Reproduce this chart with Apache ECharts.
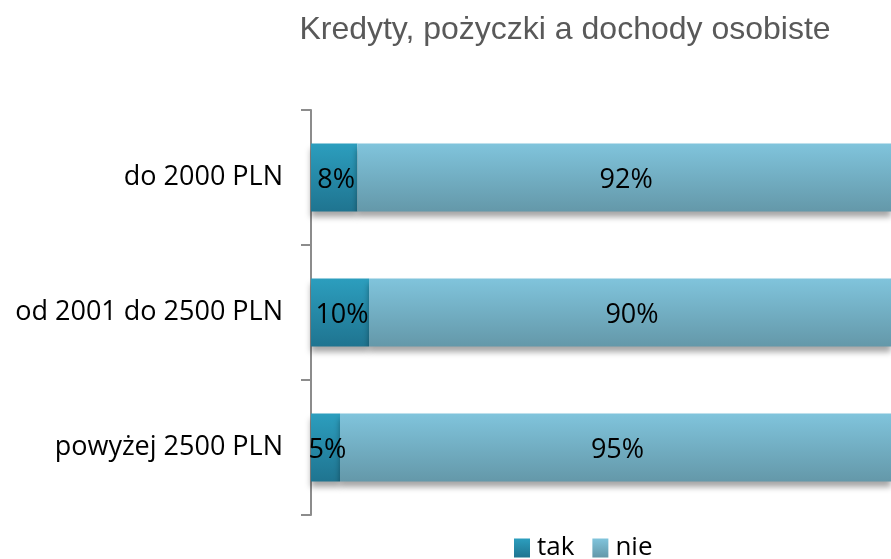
<!DOCTYPE html>
<html>
<head>
<meta charset="utf-8">
<script src="https://cdn.jsdelivr.net/npm/echarts@6/dist/echarts.min.js"></script>
<style>
    html, body { margin: 0; padding: 0; background: #fff; }
    #chart { width: 891px; height: 559px; }
</style>
</head>
<body>
<div id="chart"></div>
<script>
const categories = ['do 2000 PLN', 'od 2001 do 2500 PLN', 'powyżej 2500 PLN'];
const takValues = [8, 10, 5];
const nieValues = [92, 90, 95];

const chart = echarts.init(document.getElementById('chart'));

function grad(top, bottom) {
    return new echarts.graphic.LinearGradient(0, 0, 0, 1, [
        { offset: 0, color: top },
        { offset: 1, color: bottom }
    ]);
}

const labelFont = '"Open Sans", "Noto Sans", sans-serif';

const barLabel = {
    show: true,
    position: 'inside',
    formatter: '{c}%',
    offset: [2, 3],
    fontFamily: labelFont,
    fontSize: 27,
    color: '#000'
};

const barShadow = {
    shadowColor: 'rgba(0,0,0,0.35)',
    shadowBlur: 6,
    shadowOffsetY: 5
};

const option = {
    animation: false,
    title: {
        text: 'Kredyty, pożyczki a dochody osobiste',
        left: 560,
        textAlign: 'center',
        top: 9,
        textStyle: {
            fontFamily: '"Liberation Sans", Arial, sans-serif',
            fontSize: 32,
            fontWeight: 'normal',
            color: '#595959'
        }
    },
    legend: {
        top: 530,
        left: 509,
        itemWidth: 16,
        itemHeight: 19,
        itemGap: 18,
        icon: 'rect',
        textStyle: { fontFamily: labelFont, fontSize: 26, color: '#000', padding: [0, 0, 0, 2] },
        data: ['tak', 'nie']
    },
    grid: {
        left: 311,
        right: -10,
        top: 110,
        bottom: 44
    },
    xAxis: {
        type: 'value',
        min: 0,
        max: 100,
        show: false
    },
    yAxis: {
        type: 'category',
        inverse: true,
        data: categories,
        axisLine: { show: true, lineStyle: { color: '#8c8c8c', width: 2 } },
        axisTick: { show: true, length: 10, lineStyle: { color: '#8c8c8c', width: 2 } },
        axisLabel: {
            margin: 28,
            padding: [7, 0, 0, 0],
            fontFamily: labelFont,
            fontSize: 27,
            color: '#000'
        }
    },
    series: [
        {
            name: 'tak',
            type: 'bar',
            stack: 'total',
            barWidth: 68,
            data: takValues,
            itemStyle: Object.assign({ color: grad('#2c9ebe', '#1f7490') }, barShadow),
            label: barLabel
        },
        {
            name: 'nie',
            type: 'bar',
            stack: 'total',
            barWidth: 68,
            data: nieValues,
            itemStyle: Object.assign({ color: grad('#80c4dc', '#6498a9') }, barShadow),
            label: barLabel
        }
    ]
};

chart.setOption(option);
</script>
</body>
</html>
